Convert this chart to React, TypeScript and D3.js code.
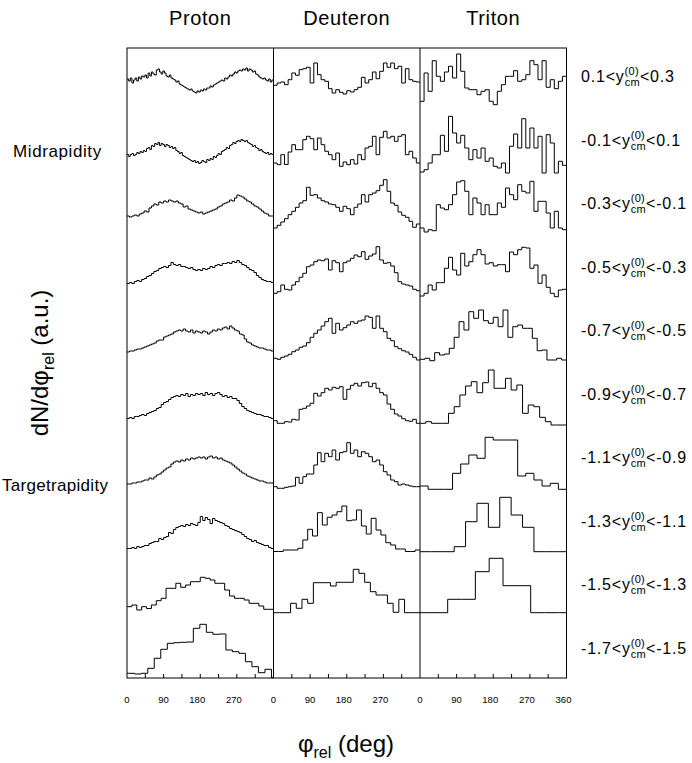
import React from 'react';
import * as d3 from 'd3';

const W = 692;
const H = 763;
const FRAME = { left: 127, right: 566.5, top: 48, bottom: 678 };

const SPECIES = ['Proton', 'Deuteron', 'Triton'];
const Y_LO = ['0.1', '-0.1', '-0.3', '-0.5', '-0.7', '-0.9', '-1.1', '-1.3', '-1.5', '-1.7'];
const Y_HI = ['0.3', '0.1', '-0.1', '-0.3', '-0.5', '-0.7', '-0.9', '-1.1', '-1.3', '-1.5'];
const TICK_LABELS = [0, 90, 180, 270];
const TICK_LABELS_LAST = [0, 90, 180, 270, 360];
const MINOR_TICKS = [45, 90, 135, 180, 225, 270, 315];

// ---------- Proton: bin width (deg), first edge (deg), counts (a.u.) per rapidity row ----------
const PROTON_BW = [4, 4, 6, 6, 6, 6, 6, 6, 12, 16];
const PROTON_START = [0, 0, 0, 0, 0, 0, 0, 0, 0, -13];
const p0 = [26,24,27,22,25,27,24,28,26,29, 28,30,27,32,29,33,31,30,35,36, 33,31,34,32,29,28,30,27,26,25, 23,24,21,20,19,18,17,16,15,16, 14,13,12,14,13,15,14,16,15,17, 17,19,18,20,21,22,23,24,25,24, 27,26,28,30,29,31,33,32,34,35, 34,36,35,37,34,36,35,33,34,31, 30,28,27,26,27,25,24,26,23,25];
const p1 = [14,12,14,15,13,14,16,15,17,16, 18,17,20,21,19,23,22,25,24,26, 23,25,24,22,24,23,21,22,20,21, 18,17,15,16,13,12,11,10,9,8, 7,8,6,7,5,6,8,7,6,9, 8,10,9,12,11,13,15,14,17,18, 19,21,20,23,24,26,25,27,28,27, 29,28,27,28,26,25,24,22,23,21, 20,18,19,17,16,15,16,14,15,14];
const p2 = [16,15,16,17,16,18,19,21,20,24, 26,28,27,30,29,31,30,32,31,30, 31,29,28,25,26,23,22,21,20,19, 20,18,19,20,21,22,23,25,26,28, 29,30,32,31,34,37,36,35,33,31, 30,28,26,25,23,21,19,18,16,16];
const p3 = [12,13,12,14,15,14,16,17,19,20, 22,24,25,27,28,29,28,30,33,31, 30,31,29,29,28,27,28,26,25,26, 25,27,26,27,29,28,30,31,30,32, 32,33,32,34,33,35,33,31,30,28, 26,25,23,20,18,16,15,14,14,13];
const p4 = [7,8,8,9,10,10,11,12,13,14, 15,16,18,19,19,22,23,24,25,27, 28,29,28,30,28,27,29,26,28,27, 26,28,27,25,27,29,28,30,29,31, 32,30,33,31,29,28,25,24,20,17, 16,14,13,12,11,11,10,9,9,8];
const p5 = [4,5,4,6,6,7,8,7,9,10, 11,12,14,15,18,20,21,23,25,26, 27,26,28,27,29,26,28,27,29,28, 29,27,30,28,29,27,29,30,28,26, 27,25,26,24,24,22,19,16,14,12, 11,10,9,8,8,7,6,6,5,4];
const p6 = [2,2,3,3,4,4,5,6,6,8, 7,9,11,12,14,16,18,19,22,24, 25,24,26,25,27,26,28,27,28,29, 28,29,27,29,30,28,29,27,28,26, 25,24,23,21,19,17,15,13,12,10, 9,8,7,6,5,5,4,3,3,3];
const p7 = [1,1,2,1,3,2,3,4,4,6, 7,8,8,11,10,12,13,17,16,20, 22,23,24,23,25,24,26,25,24,27, 33,29,32,30,26,31,29,28,27,26, 24,23,21,20,19,18,17,15,13,11, 10,8,9,7,6,5,4,4,2,1];
const p8 = [6.3,8,3,6.3,4.5,8,12.3,14.7,24.7,24.7, 29.7,25.7,28,31.3,31.3,35.7,34.7,33,29.7,29.7, 23,17,14.7,14.7,13,9.7,9.7,7,3.7,3.7];
const p9 = [3.2,3.2,2.5,3.2,8.2,18.2,27.2,33.2,33.8,34.2, 34.5,48.2,52.2,44.2,42.2,42.5,26.5,24.8,23.2,14.8, 9.8,3.8,7.2,-1.2];
const PROTON = [p0, p1, p2, p3, p4, p5, p6, p7, p8, p9];

// ---------- Deuteron ----------
const DEUTERON_BW = [9, 9, 9, 9, 9, 9, 9, 12, 14, 0];
const DEUTERON_START = [0, 0, 0, 0, 0, 0, 0, 0, 0, 0];
const d0 = [19.7,22,23,20.3,25.3,32,29.7,35.3,36.3,37.7, 22,42,30.3,25.3,23.7,16.3,12,15.3,12.7,11, 14.3,13,15.3,17.7,27.7,22,25.3,33,26.3,33.7, 42,37.7,42,36.3,38.7,22,36.3,25.3,23.7,23];
const d1 = [5.5,3.8,13.8,4,16.5,23.8,18.8,18.8,28.8,32.2, 29.8,18.8,30.5,23.8,17.2,13.8,8.8,15.5,2.2,6.5, 3.8,8.8,4.5,13.8,8.8,20.5,22.2,32.2,13.8,31.2, 37.2,30.5,32.2,27.2,32.2,33.8,13.8,17.2,10.5,5.5];
const d2 = [4,6.7,10,13.3,17.3,20.7,24.7,29,31.3,44.7, 36.7,37.3,34,31.3,30,28,27.3,24.7,20.7,25.7, 23.3,17.3,24.7,28,37.3,30,37.3,39,41.3,46.7, 52.3,40.7,29,26.7,20,16.7,14.7,10.7,4.7,8];
const d3v = [2.2,3.8,10.5,6.2,5.5,10.5,13.8,18.2,22.2,28.8, 30.5,33.8,35.5,34.8,36.5,25.5,34.8,32.8,23.8,32.8, 34.5,37.2,40.5,38.8,43.8,36.2,39.5,41.5,48.8,35.5, 32.2,32.8,29.5,22.8,13.8,11.5,10.5,9.5,6.2,4.8];
const d4 = [0.7,-0.3,1.7,3,4.7,7.3,9,11.7,13,16.3, 21.7,25.7,29,33,37.3,40.7,25.7,35.7,29,31.3, 34,37.3,35.7,38,39,43,41.7,30.7,43,30.7, 27.3,20.7,18.3,12.3,10.3,8.3,7,4.7,1.7,-1];
const d5 = [1.8,-0.8,-0.8,0.8,0.5,3.2,2.5,13.2,14.2,16.5, 19.2,29.2,26.5,29.8,34.2,32.5,35.2,34.2,35.8,23.2, 33.2,37.2,39.2,36.5,39.8,40.5,35.8,39.2,34.2,29.8, 27.5,18.5,13.2,8.5,6.5,3.8,1.8,1.2,3.2,-0.8];
const d6 = [-0.7,-2.3,-2.3,-1.3,-0.7,0,8.7,2.7,9.3,12, 12,21,33.3,24.3,32.7,29.3,36,26,33.3,34.3, 43.3,32.7,36,29.3,34.3,32.7,29.3,24.3,26,21, 14.3,11,6,4.3,1,2,1,0,-0.7,-0.7];
const d7 = [-2,-2,-0.5,-0.5,-0.5,1.2,9.5,20.2,13.5,36.8, 24.5,32.2,34.5,37.8,43.5,28.8,29.5,39.5,23.5,15.5, 31.2,19.5,14.5,6.8,4.5,0.5,0.5,-2,-2,-0.5];
const d8 = [0.3,0.3,0.3,9.7,4.7,13.7,9.7,30.3,30.3,30.3, 27,30.7,30.7,30.7,43.7,39.7,30.7,21.3,18,18, 9.7,0.7,13.7,0.3,0.3,0.3];
const DEUTERON = [d0, d1, d2, d3v, d4, d5, d6, d7, d8, []];

// ---------- Triton ----------
const TRITON_BW = [10, 10, 10, 10, 12, 14, 20, 28, 34, 0];
const TRITON_START = [0, 0, 0, 0, 0, 0, 0, 0, 0, 0];
const t0 = [3.7,32,13.7,44.3,28.7,23.7,33,38.7,27,51, 33.7,17,15.3,15.3,10.3,13.7,15.3,3.7,0.3,13.7, 20.3,28.7,28.7,34.3,23.7,25.3,30.3,44.3,40.3,25.3, 44.3,17.7,25.3,16.3,23.7,28.7];
const t1 = [-3.5,-1.2,5.5,13.8,13.8,33.2,17.2,52.2,35.5,25.5, 33.2,20.5,8.8,18.8,10.5,20.5,7.2,10.5,2.2,0.5, 5.5,-4.5,22.2,34.5,20.5,49.8,20.5,40.5,20.5,32.2, -4.5,33.8,25.5,-4.5,7.2,3.2];
const t2 = [4,0,2.3,1.3,27.3,24,22.3,27.3,37.3,50, 51.3,40.7,17.3,34,29,17.3,27.3,17.3,17.3,29, 24.7,44,37.3,32.3,47.3,40.7,39,50.7,20.7,30.7, 30.7,19,4,20.7,4,2.3];
const t3 = [-0.5,2.2,10.5,5.5,12.8,12.8,27.2,38.2,25.5,20.5, 42.2,29.5,33.8,40.8,45.8,40.8,31.5,32.8,29.5,30.8, 30.8,23.8,43.5,40.8,45.8,48.2,47.5,27.2,30.5,12.2, 20.5,8.2,2.2,-1.2,5.5,6.2];
const t4 = [-0.3,0.7,-1.7,6.3,4,5,10.7,21.7,37.3,29, 47.3,40.7,49,38.3,35.7,41.7,32.3,49,21.7,32.3, 34,30.7,30.7,20.7,8.3,9,-1,-1,0.7,-1];
const t5 = [-0.8,0.8,-0.8,-0.8,-0.8,9.2,15.8,27.5,36.5,40.8, 29.8,39.8,52.5,34.2,34.2,44.2,32.5,37.5,9.2,17.5, 15.8,5.2,0.8,-2.5,-2.5,-2.5];
const t6 = [0,-3.3,-3.3,-3.3,12.7,22,31,27.7,48.7,46, 46,46,10,12.7,6,0,2.7,-3.3];
const t7 = [-2.2,-2.2,-2.2,2.8,27.8,46.2,22.2,52.2,34.5,22.2, -2.2,-2.2,-2.2];
const t8 = [0.3,0.3,13.7,13.7,41.3,54.7,27.3,27.3,0.3,0.3,0.3];
const TRITON = [t0, t1, t2, t3, t4, t5, t6, t7, t8, []];

const PANELS = [
  { name: SPECIES[0], bw: PROTON_BW, start: PROTON_START, data: PROTON, ticks: TICK_LABELS },
  { name: SPECIES[1], bw: DEUTERON_BW, start: DEUTERON_START, data: DEUTERON, ticks: TICK_LABELS },
  { name: SPECIES[2], bw: TRITON_BW, start: TRITON_START, data: TRITON, ticks: TICK_LABELS_LAST },
];

const FONT = 'Liberation Sans, Arial, Helvetica, sans-serif';

export default function App() {
  const panelW = (FRAME.right - FRAME.left) / 3;
  const rowY = d3.scaleLinear().domain([0, 9]).range([105, 676.5]);
  const amp = d3.scaleLinear().domain([0, 60]).range([0, 60]);
  const line = d3.line<[number, number]>().x((d) => d[0]).y((d) => d[1]);

  const histPath = (x: d3.ScaleLinear<number, number>, base: number, bw: number, start: number, vals: number[]) => {
    const pts: [number, number][] = [];
    vals.forEach((v, k) => {
      const a = Math.max(0, start + k * bw);
      const b = Math.min(360, start + (k + 1) * bw);
      if (b <= a) return;
      const y = base - amp(v);
      pts.push([x(a), y], [x(b), y]);
    });
    return pts.length ? line(pts) : null;
  };

  return (
    <svg
      width={W}
      height={H}
      viewBox={`0 0 ${W} ${H}`}
      style={{ position: 'absolute', left: 0, top: 0, background: '#fff' }}
      fontFamily={FONT}
    >
      <rect x={0} y={0} width={W} height={H} fill="#fff" />
      {PANELS.map((p, pi) => {
        const x0 = FRAME.left + pi * panelW;
        const x = d3.scaleLinear().domain([0, 360]).range([x0, x0 + panelW]);
        return (
          <g key={p.name}>
            <text x={x(180)} y={25} fontSize={20} textAnchor="middle" style={{ letterSpacing: '0.6px' }}>
              {p.name}
            </text>
            {p.data.map((vals, r) =>
              vals.length ? (
                <path
                  key={r}
                  d={histPath(x, rowY(r), p.bw[r], p.start[r], vals) || ''}
                  fill="none"
                  stroke="#000"
                  strokeWidth={1}
                />
              ) : null
            )}
            {MINOR_TICKS.map((t) => (
              <line key={t} x1={x(t)} x2={x(t)} y1={FRAME.bottom} y2={FRAME.bottom - 4} stroke="#000" strokeWidth={1} />
            ))}
            {p.ticks.map((t) => (
              <text
                key={t}
                x={x(t)}
                y={703}
                fontSize={9.5}
                textAnchor="middle"
                dx={t >= 100 ? -3 : 0}
              >
                {t}
              </text>
            ))}
          </g>
        );
      })}
      <rect
        x={FRAME.left}
        y={FRAME.top}
        width={FRAME.right - FRAME.left}
        height={FRAME.bottom - FRAME.top}
        fill="none"
        stroke="#000"
        strokeWidth={1}
      />
      {[1, 2].map((i) => (
        <line
          key={i}
          x1={FRAME.left + i * panelW}
          x2={FRAME.left + i * panelW}
          y1={FRAME.top}
          y2={FRAME.bottom}
          stroke="#000"
          strokeWidth={1}
        />
      ))}
      {Y_LO.map((lo, r) => (
        <text key={r} x={581} y={rowY(r) - 23} fontSize={16} style={{ letterSpacing: '0.8px' }}>
          {lo}&lt;y
          <tspan fontSize={11} dy={-7} style={{ letterSpacing: '0.3px' }}>(0)</tspan>
          <tspan fontSize={11} dx={-14.3} dy={11} style={{ letterSpacing: '0.3px' }}>cm</tspan>
          <tspan dy={-4}>&lt;{Y_HI[r]}</tspan>
        </text>
      ))}
      <text x={13} y={157} fontSize={17} style={{ letterSpacing: '0.6px' }}>Midrapidity</text>
      <text x={2} y={491} fontSize={17} style={{ letterSpacing: '0.3px' }}>Targetrapidity</text>
      <text x={346} y={752} fontSize={24} textAnchor="middle">
        φ<tspan fontSize={16} dy={6}>rel</tspan>
        <tspan dy={-6}> (deg)</tspan>
      </text>
      <text transform={`translate(48, ${(FRAME.top + FRAME.bottom) / 2}) rotate(-90)`} fontSize={24} textAnchor="middle">
        dN/dφ<tspan fontSize={16} dy={6}>rel</tspan>
        <tspan dy={-6}> (a.u.)</tspan>
      </text>
    </svg>
  );
}
